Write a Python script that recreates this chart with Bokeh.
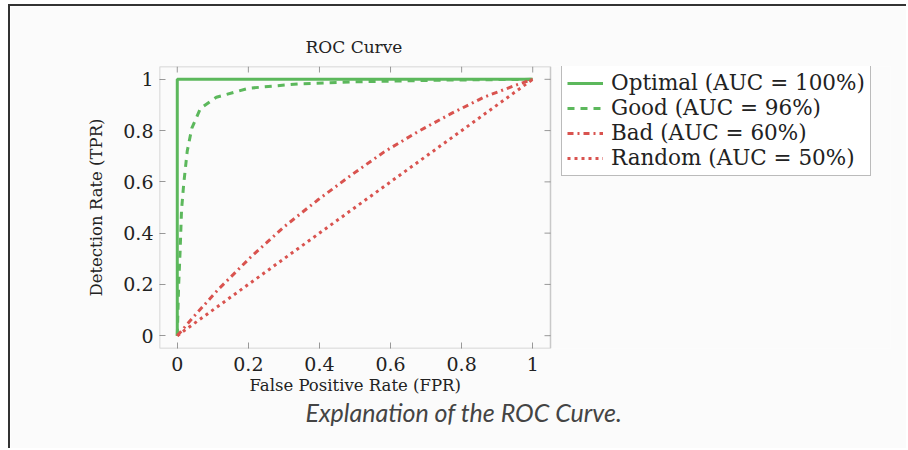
import math
from bokeh.plotting import figure
from bokeh.models import FixedTicker, Range1d, Title, BoxAnnotation
from bokeh.embed import file_html
from bokeh.resources import INLINE

# ---- data ----
optimal_fpr = [0, 0, 1]
optimal_tpr = [0, 1, 1]

good_fpr = [0, 0.004, 0.008, 0.012, 0.018, 0.028, 0.041, 0.065, 0.11, 0.2, 0.34, 0.5, 0.75, 1]
good_tpr = [0, 0.2, 0.33, 0.49, 0.59, 0.72, 0.81, 0.886, 0.93, 0.965, 0.982, 0.99, 0.997, 1]

bad_fpr = [0, 0.05, 0.113, 0.207, 0.30, 0.394, 0.488, 0.582, 0.676, 0.77, 0.864, 0.958, 1]
bad_tpr = [0, 0.08, 0.177, 0.307, 0.424, 0.528, 0.625, 0.717, 0.795, 0.866, 0.931, 0.98, 1]

random_fpr = [0, 1]
random_tpr = [0, 1]

series_labels = ["Optimal (AUC = 100%)", "Good (AUC = 96%)", "Bad (AUC = 60%)", "Random (AUC = 50%)"]
tick_values = [0, 0.2, 0.4, 0.6, 0.8, 1]
tick_labels = ["0", "0.2", "0.4", "0.6", "0.8", "1"]

GREEN = "#5cb85c"
RED = "#d9534f"
SERIF = "DejaVu Serif"
BG = "#fbfbfb"

# ---- layout (pixels, relative to the figure, which sits at page offset 10, 6) ----
OX, OY = 10, 6
W, H = 908 - OX, 450 - OY
box_left, box_right, box_top, box_bottom = 159 - OX, 550 - OX, 66 - OY, 348 - OY
frame_right = 890 - OX
lo, hi = -0.05, 1.05
x_end = lo + (hi - lo) * (frame_right - box_left) / (box_right - box_left)

p = figure(width=W, height=H, output_backend="svg", toolbar_location=None,
           x_range=Range1d(lo, x_end), y_range=Range1d(lo, hi),
           min_border_left=box_left, min_border_right=W - frame_right,
           min_border_top=box_top, min_border_bottom=H - box_bottom,
           background_fill_color=BG, border_fill_color=BG, outline_line_color=None,
           styles={"margin-left": "8px", "margin-top": "4px",
                   "border-left": "2px solid #333", "border-top": "2px solid #333"})
p.grid.visible = False

# axis box
p.add_layout(BoxAnnotation(left=lo, right=hi, bottom=lo, top=hi, fill_alpha=0,
                           line_color="#555", line_width=1.5))

# title
p.title.text = "ROC Curve"
p.title.align = "left"
p.title.offset = 146
p.title.text_font = SERIF
p.title.text_font_style = "normal"
p.title.text_font_size = "17px"
p.title.text_color = "#222"
p.title.standoff = 20

overrides = dict(zip(tick_values, tick_labels))
for ax in (p.xaxis[0], p.yaxis[0]):
    ax.ticker = FixedTicker(ticks=tick_values)
    ax.major_label_overrides = overrides
    ax.minor_tick_line_color = None
    ax.axis_line_color = None
    ax.major_tick_in = 6
    ax.major_tick_out = 0
    ax.major_tick_line_color = "#999"
    ax.major_label_text_font = SERIF
    ax.major_label_text_font_size = "19px"
    ax.major_label_text_color = "#222"
p.xaxis[0].major_label_standoff = 8
p.yaxis[0].major_label_standoff = 6

p.yaxis[0].axis_label = "Detection Rate (TPR)"
p.yaxis[0].axis_label_text_font = SERIF
p.yaxis[0].axis_label_text_font_style = "normal"
p.yaxis[0].axis_label_text_font_size = "16.5px"
p.yaxis[0].axis_label_text_color = "#222"
p.yaxis[0].axis_label_standoff = 14

# inner ticks on the top and right edges of the box
p.ray(x=hi, y=tick_values, length=6, length_units="screen", angle=math.pi, line_color="#999", line_width=1)
p.ray(x=tick_values, y=hi, length=6, length_units="screen", angle=-math.pi / 2, line_color="#999", line_width=1)

p.line(optimal_fpr, optimal_tpr, line_color=GREEN, line_width=3, legend_label=series_labels[0])
p.line(good_fpr, good_tpr, line_color=GREEN, line_width=3, line_dash="7 6", legend_label=series_labels[1])
p.line(bad_fpr, bad_tpr, line_color=RED, line_width=3, line_dash="6 4 2 4", legend_label=series_labels[2])
p.line(random_fpr, random_tpr, line_color=RED, line_width=3, line_dash="3 4", legend_label=series_labels[3])

leg = p.legend[0]
leg.label_text_font = SERIF
leg.label_text_font_size = "21.5px"
leg.label_text_color = "#222"
leg.glyph_width = 36
leg.glyph_height = 20
leg.label_height = 25
leg.label_standoff = 8
leg.spacing = 0
leg.padding = 5
leg.margin = 0
leg.border_line_color = "#777"
leg.border_line_width = 1
leg.background_fill_color = "white"
leg.background_fill_alpha = 1
legend_height = len(series_labels) * leg.label_height + 2 * leg.padding
# location = bottom-left corner of the legend, relative to the frame's bottom-left
leg.location = (561 - OX - box_left, (box_bottom - box_top) - legend_height)

xlabel = Title(text="False Positive Rate (FPR)", align="left", offset=90,
               text_font=SERIF, text_font_style="normal", text_font_size="16.5px",
               text_color="#222", standoff=0)
p.add_layout(xlabel, "below")
caption = Title(text="Explanation of the ROC Curve.", align="left", offset=146,
                text_font="Lato", text_font_style="italic", text_font_size="25px",
                text_color="#444", standoff=0)
p.add_layout(caption, "below")

open("out.html", "w").write(file_html(p, INLINE))
